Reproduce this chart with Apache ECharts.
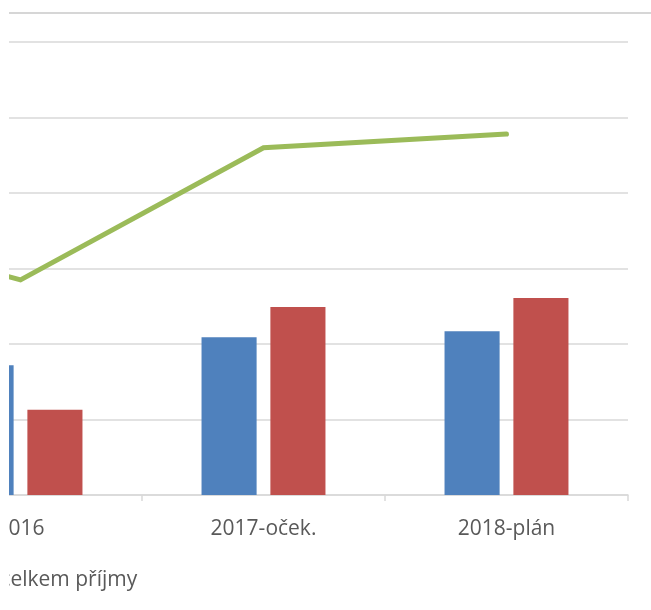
<!DOCTYPE html>
<html>
<head>
<meta charset="utf-8">
<script src="https://cdn.jsdelivr.net/npm/echarts@6/dist/echarts.min.js"></script>
<style>
  html, body { margin: 0; padding: 0; background: #ffffff; }
  #clip { position: absolute; left: 9px; top: 0; width: 642px; height: 610px; overflow: hidden; }
  #chart { position: absolute; left: -409px; top: 0; width: 1051px; height: 610px; }
</style>
</head>
<body>
<div id="clip"><div id="chart"></div></div>
<script>
// Data read from the (cropped) reference picture
const categories = ['2015', '2016', '2017-oček.', '2018-plán'];
const seriesNames = ['Běžné příjmy', 'Kapitálové příjmy', 'Úhrnem celkem příjmy'];
const blueValues = [165, 172, 209, 217];
const redValues = [118, 113, 249, 261];
const lineValues = [372, 285, 460, 478];
const yTicks = { min: 0, max: 600, interval: 100 };

const chart = echarts.init(document.getElementById('chart'), null, { renderer: 'canvas' });
const gridColor = '#d9d9d9';
const textColor = '#595959';
const font = 'Open Sans';

chart.setOption({
  animation: false,
  backgroundColor: '#ffffff',
  textStyle: { fontFamily: font },
  grid: { left: 56, right: 23, top: 42, bottom: 115, containLabel: false },
  legend: [
    {
      data: [seriesNames[0], seriesNames[1]],
      orient: 'vertical',
      left: 10, top: 566,
      itemWidth: 12, itemHeight: 12, itemGap: 8,
      textStyle: { fontFamily: font, fontSize: 21, color: textColor }
    },
    {
      data: [seriesNames[2]],
      left: 278, top: 565,
      itemWidth: 25, itemHeight: 14, itemGap: 6,
      textStyle: { fontFamily: font, fontSize: 21, color: textColor }
    }
  ],
  xAxis: {
    type: 'category',
    data: categories,
    boundaryGap: true,
    axisLine: { lineStyle: { color: gridColor, width: 1.5 } },
    axisTick: { show: true, length: 6, lineStyle: { color: gridColor, width: 1.5 } },
    axisLabel: { fontFamily: font, fontSize: 21, color: textColor, margin: 24 }
  },
  yAxis: {
    type: 'value',
    min: yTicks.min, max: yTicks.max, interval: yTicks.interval,
    axisLine: { show: false },
    axisTick: { show: false },
    axisLabel: { fontFamily: font, fontSize: 21, color: textColor },
    splitLine: { lineStyle: { color: gridColor, width: 1.5 } }
  },
  graphic: [
    { type: 'line', shape: { x1: 409, y1: 13, x2: 1051, y2: 13 },
      style: { stroke: '#d6d6d6', lineWidth: 2 }, silent: true }
  ],
  series: [
    { name: seriesNames[0], type: 'bar', data: blueValues,
      itemStyle: { color: '#4F81BD' }, barGap: '25%', barCategoryGap: '49%' },
    { name: seriesNames[1], type: 'bar', data: redValues,
      itemStyle: { color: '#C0504D' }, barGap: '25%', barCategoryGap: '49%' },
    { name: seriesNames[2], type: 'line', data: lineValues, symbol: 'none',
      z: 5, itemStyle: { color: '#9BBB59' },
      lineStyle: { color: '#9BBB59', width: 5, cap: 'round', join: 'miter' } }
  ]
});
</script>
</body>
</html>
